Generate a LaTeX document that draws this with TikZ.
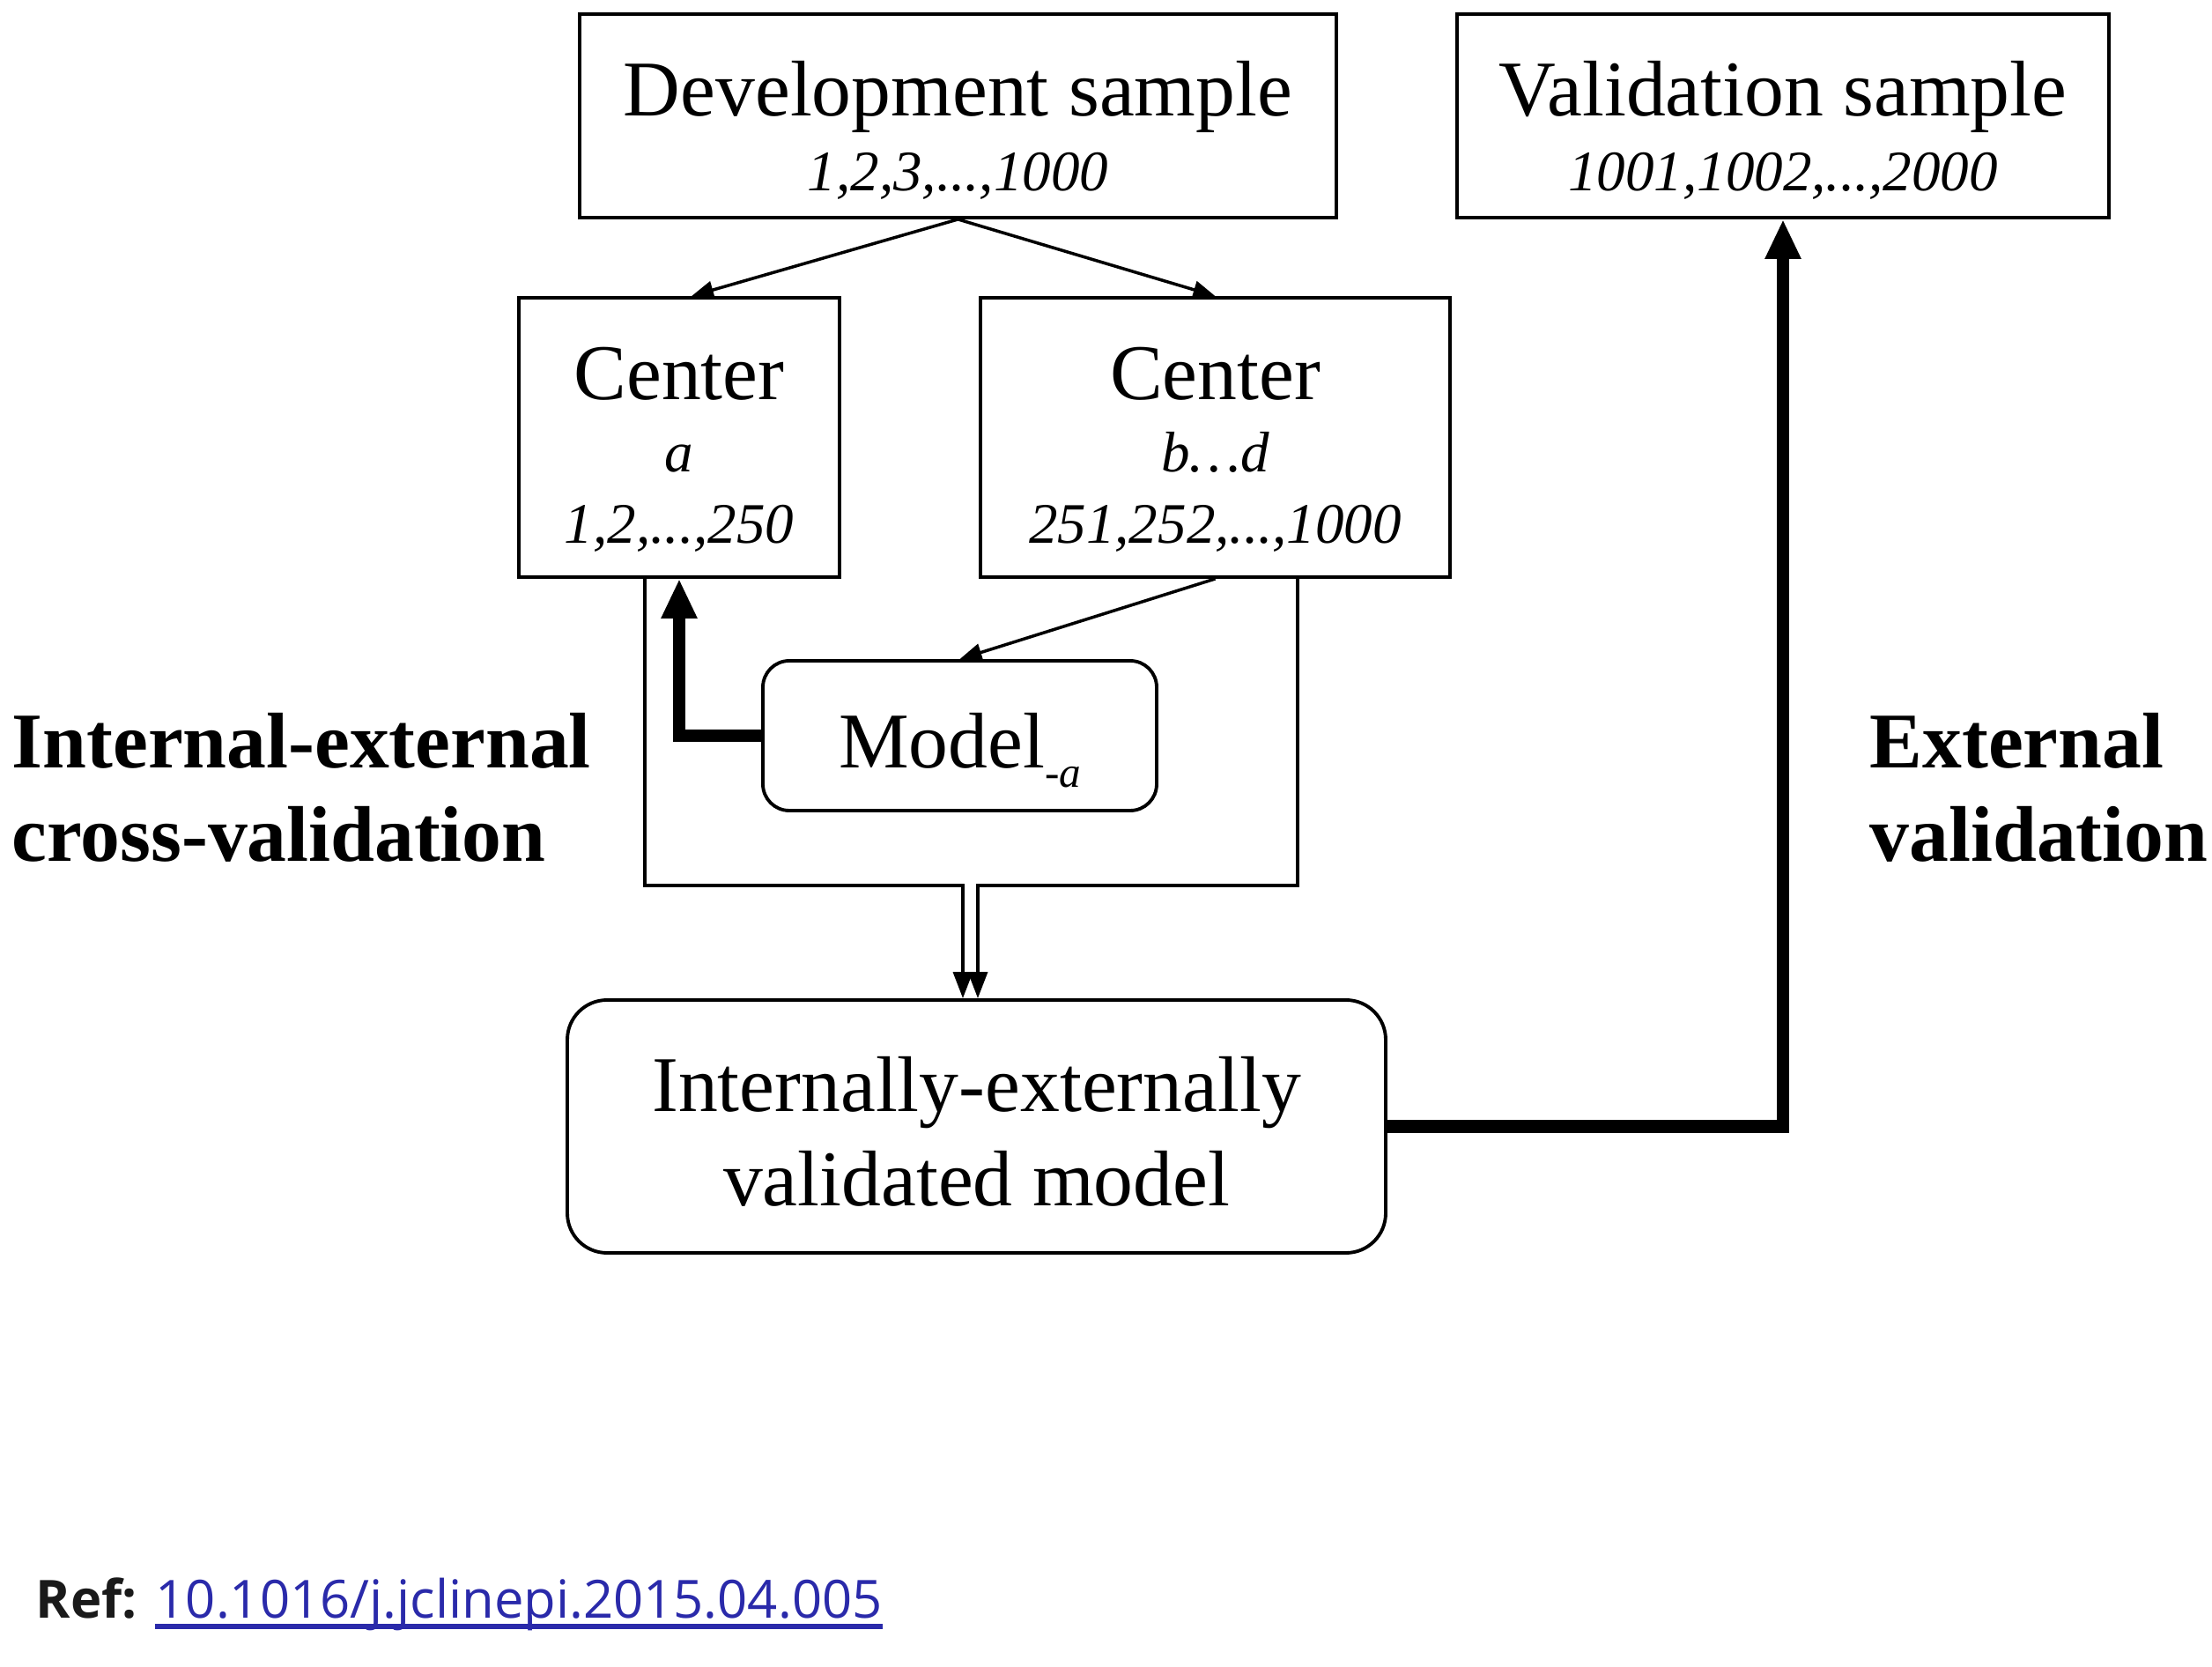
\documentclass[tikz,border=0pt]{standalone}
\usepackage{fontspec}
\setmainfont{Liberation Serif}
\newfontfamily\reffont{Open Sans}
\usetikzlibrary{arrows.meta}
\definecolor{linkblue}{RGB}{42,42,170}
\definecolor{refgray}{RGB}{26,26,26}
\newcommand{\idx}[1]{{\itshape\fontsize{18.5}{18.5}\selectfont #1}}

\begin{document}
\begin{tikzpicture}[
    box/.style={draw, line width=1.1pt, rectangle, inner xsep=0pt, inner ysep=0pt,
                align=center, font=\fontsize{25.5}{30}\selectfont},
    rbox/.style={box, rounded corners=0.3cm},
    arr/.style={line width=1pt, -{Triangle[length=0.25cm, width=0.2cm]}},
    merge/.style={line width=1pt, -{Triangle[length=0.3cm, width=0.22cm]}},
    heavy/.style={line width=4.2pt, -{Triangle[length=0.45cm, width=0.38cm]}},
    side/.style={font=\fontsize{25.5}{30.4}\selectfont\bfseries, align=left,
                 anchor=base west, inner sep=0pt}]
    \useasboundingbox (0,0) rectangle (25.11,-18.92);

    \node[box, font=\fontsize{25.5}{24.2}\selectfont, minimum width=8.59cm,
          text height=2.01cm, text depth=0.30cm] (dev) at (10.875,-1.315)
          {Development sample\\\idx{1,2,3,...,1000}};
    \node[box, font=\fontsize{25.5}{24.2}\selectfont, minimum width=7.40cm,
          text height=2.01cm, text depth=0.30cm] (val) at (20.24,-1.315)
          {Validation sample\\\idx{1001,1002,...,2000}};
    \node[box, font=\fontsize{25.5}{23.3}\selectfont, minimum width=3.64cm,
          text height=2.79cm, text depth=0.38cm] (ca) at (7.71,-4.965)
          {Center\\\idx{a}\\\idx{1,2,...,250}};
    \node[box, font=\fontsize{25.5}{23.3}\selectfont, minimum width=5.33cm,
          text height=2.79cm, text depth=0.38cm] (cb) at (13.795,-4.965)
          {Center\\\idx{b…d}\\\idx{251,252,...,1000}};
    \node[rbox, minimum width=4.47cm, text height=1.22cm, text depth=0.48cm] (model) at (10.895,-8.35)
          {Model\raisebox{-6pt}{\itshape\fontsize{14}{14}\selectfont -a}};
    \node[rbox, rounded corners=0.45cm, font=\fontsize{25.5}{30.2}\selectfont, minimum width=9.29cm,
          text height=2.33cm, text depth=0.54cm] (final) at (11.085,-12.785)
          {Internally-externally\\validated model};

    \node[side] (iecv) at (0.13,-9.78) {Internal-external\\cross-validation};
    \node[side] (ev) at (21.22,-9.78) {External\\validation};

    % split of the development sample
    \draw[arr] (dev.south) -- ([xshift=0.14cm]ca.north);
    \draw[arr] (dev.south) -- (cb.north);
    \draw[arr] (cb.south) -- (model.north);
    \draw[heavy] (model.west) -| (ca.south);

    % both centers merge into the final model
    \coordinate (jl) at (7.32,-10.05);
    \coordinate (jr) at (14.73,-10.05);
    \coordinate (ml) at (10.93,-10.05);
    \coordinate (mr) at (11.10,-10.05);
    \draw[merge] (ca.south -| jl) -- (jl) -- (ml) -- (ml |- final.north);
    \draw[merge] (cb.south -| jr) -- (jr) -- (mr) -- (mr |- final.north);

    \draw[heavy] (final.east) -| (val.south);

    \node[anchor=base west, inner sep=0pt, text=refgray,
          font=\reffont\bfseries\fontsize{17}{20}\selectfont] (ref) at (0.40,-18.36) {Ref:};
    \node[anchor=base west, inner sep=0pt, text=linkblue,
          font=\reffont\fontsize{17}{20}\selectfont] (doi) at (1.76,-18.36) {10.1016/j.jclinepi.2015.04.005};
    \draw[linkblue, line width=0.06cm] ([yshift=-0.1cm]doi.base west) -- ([yshift=-0.1cm]doi.base east);
\end{tikzpicture}
\end{document}
